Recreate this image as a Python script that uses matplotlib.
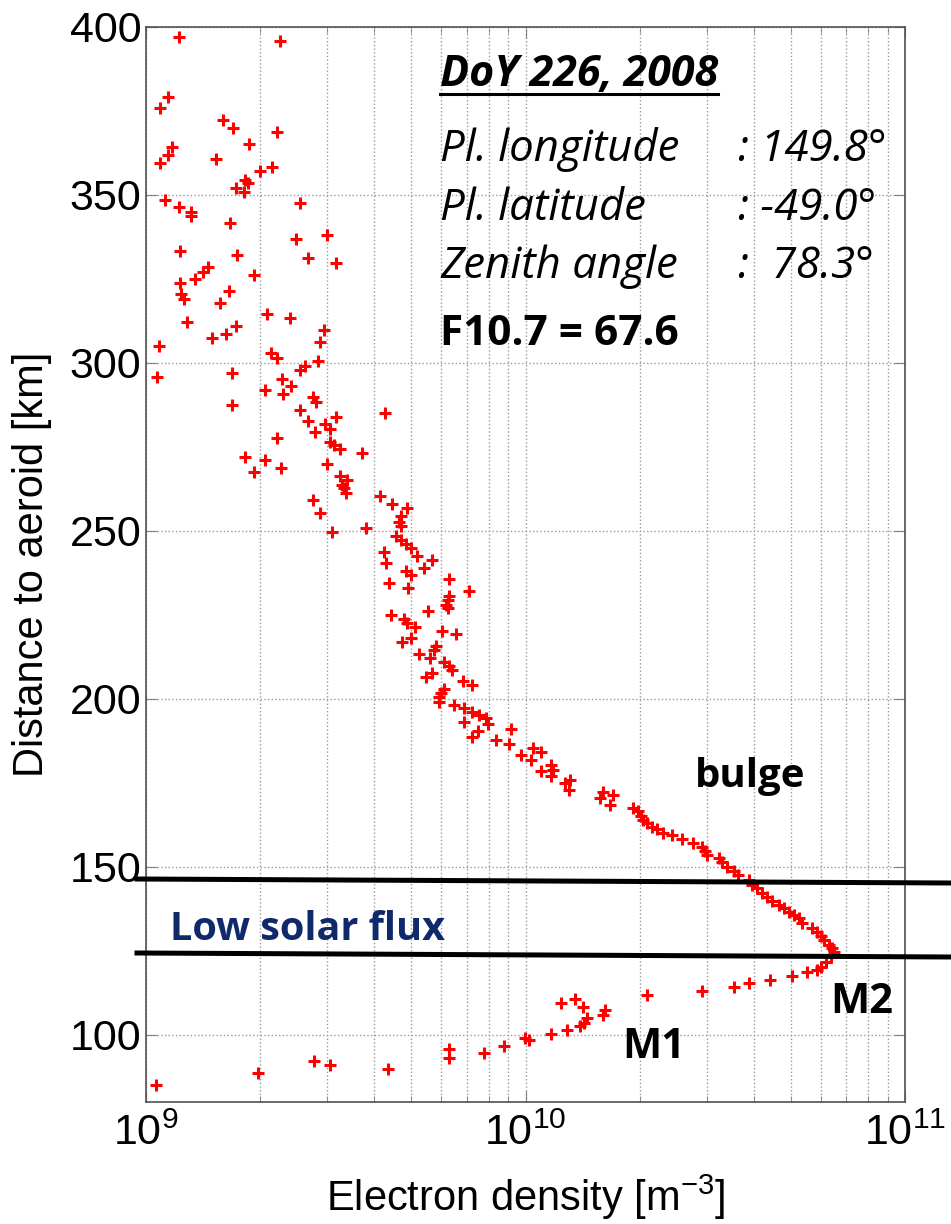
import numpy as np
import matplotlib.pyplot as plt
from matplotlib.lines import Line2D

plt.rcParams['font.family'] = 'Liberation Sans'
plt.rcParams['mathtext.fontset'] = 'custom'
plt.rcParams['mathtext.rm'] = 'Liberation Sans'
plt.rcParams['mathtext.it'] = 'Liberation Sans:italic'

# electron density, units of 1e9 m^-3
density = np.array([
    1.22, 2.26, 1.14, 1.09, 1.60, 1.70, 2.22, 1.87, 1.17, 1.14,
    1.09, 1.53, 2.00, 2.15, 1.82, 1.86, 1.73, 1.81, 1.12, 1.22,
    1.31, 1.31, 2.54, 1.66, 2.49, 2.99, 1.23, 1.74, 2.67, 3.16,
    1.46, 1.41, 1.35, 1.23, 1.92, 1.24, 1.26, 1.65, 1.57, 2.09,
    2.39, 1.28, 1.73, 1.62, 1.49, 2.94, 2.87, 1.08, 2.14, 2.21,
    2.84, 2.63, 2.54, 1.69, 1.07, 2.28,
    2.41, 2.06, 2.30, 1.69, 2.75, 2.80, 2.54, 4.26, 3.16, 2.68,
    2.97, 3.06, 2.78, 2.21, 3.06, 3.12, 3.24, 3.70, 1.82, 2.06,
    2.27, 1.93, 2.99, 3.24, 3.39, 3.29, 3.32, 3.36, 4.13, 2.75,
    4.46, 4.86, 2.87, 4.69, 4.64, 4.69, 3.09, 3.81, 4.55, 4.69,
    4.84, 4.98, 5.19, 5.67, 4.24, 4.28, 5.41, 4.84, 4.98, 6.27,
    4.37, 4.91, 7.08, 6.29, 6.23, 6.17, 6.23, 5.54, 4.43, 4.79,
    4.88, 5.12, 6.02, 6.56, 4.98, 4.72, 5.81, 5.74, 5.24, 5.60,
    6.11, 6.27, 6.40, 5.67, 5.46, 6.83, 7.21, 6.11, 5.98, 5.92,
    5.91, 6.49, 6.90, 7.25, 7.56, 7.87, 7.95, 6.90, 9.17, 7.48,
    7.25, 8.37, 9.07, 9.74, 10.35, 10.45, 11.0, 11.0, 11.7, 11.8,
    11.7, 12.7, 13.1, 13.0, 15.7, 16.0, 17.0, 16.7, 19.2, 19.8,
    20.2, 20.4, 20.9, 21.5, 22.2, 23.1, 24.3, 25.8, 27.6, 29.2,
    29.8, 30.1, 32.3, 32.9, 34.0, 35.4, 36.4, 38.7, 39.6, 40.8,
    42.0, 43.4, 44.7, 46.5, 47.9, 49.4, 50.9, 52.5, 53.6, 57.0,
    58.7, 59.9, 61.2, 63.0, 64.4, 65.0, 63.7, 61.8, 59.9, 58.7,
    55.3, 50.4, 44.2, 38.7, 35.4, 29.2, 20.9,
    12.4, 13.5, 14.2, 14.5, 14.3, 13.9, 12.9, 11.7, 10.2, 9.94, 8.80, 16.2, 16.0,
    1.06, 1.97, 2.77, 3.05, 4.35, 6.27, 6.27, 7.79,
]) * 1e9

# distance to aeroid, km
altitude = np.array([
    397.1, 395.8, 379.3, 375.8, 372.3, 370.0, 368.8, 365.2, 364.2, 362.0,
    359.4, 360.6, 357.1, 358.3, 354.5, 353.5, 352.2, 350.8, 348.5, 346.3,
    345.0, 343.8, 347.6, 341.6, 336.9, 338.1, 333.4, 332.2, 331.2, 329.7,
    328.7, 327.2, 324.9, 323.7, 326.1, 320.4, 319.0, 321.5, 317.9, 314.5,
    313.5, 312.1, 311.0, 308.5, 307.5, 309.8, 306.3, 305.1, 302.9, 301.6,
    300.7, 299.1, 297.9, 296.9, 295.9, 295.1,
    293.2, 292.0, 290.8, 287.4, 289.8, 288.5, 286.0, 285.0, 283.8, 282.7,
    281.8, 280.4, 279.3, 277.8, 276.6, 275.6, 274.4, 273.1, 272.1, 271.1,
    268.7, 267.4, 269.9, 266.2, 265.2, 263.7, 262.7, 261.4, 260.4, 259.2,
    258.0, 256.9, 255.3, 254.3, 252.8, 251.6, 249.6, 250.8, 248.5, 247.3,
    246.1, 245.0, 242.6, 241.4, 243.8, 240.4, 238.9, 238.2, 236.9, 235.6,
    234.6, 233.1, 232.2, 230.7, 229.5, 228.0, 227.0, 226.3, 225.0, 223.7,
    222.5, 221.5, 220.3, 219.3, 218.2, 216.8, 215.8, 214.6, 213.4, 212.3,
    211.1, 209.8, 208.6, 207.6, 206.6, 205.4, 204.2, 202.9, 201.7, 200.5,
    199.2, 198.2, 197.2, 196.2, 195.2, 194.3, 192.6, 193.2, 191.0, 190.3,
    188.8, 187.8, 186.5, 183.3, 181.8, 185.3, 184.3, 178.4, 180.4, 178.9,
    176.9, 174.9, 175.9, 172.9, 170.4, 172.4, 171.4, 168.5, 167.6, 166.5,
    165.0, 164.0, 163.0, 162.0, 161.2, 160.2, 159.5, 158.2, 157.2, 156.0,
    154.6, 153.6, 152.6, 151.3, 150.1, 148.9, 147.6, 146.1, 144.6, 143.7,
    142.2, 141.0, 139.7, 138.7, 137.7, 136.7, 135.7, 134.7, 133.4, 131.8,
    130.7, 129.5, 128.1, 126.8, 125.8, 124.8, 123.3, 121.8, 120.3, 119.3,
    118.8, 117.6, 116.4, 115.4, 114.2, 112.9, 111.9,
    109.6, 110.6, 108.4, 105.0, 103.5, 102.5, 101.3, 100.3, 98.5, 99.0, 96.8, 107.4, 106.0,
    85.1, 88.6, 92.3, 90.9, 89.9, 95.7, 93.1, 94.6,
])

xticks = [1e9, 1e10, 1e11]
xtick_labels = ['$10^{9}$', '$10^{10}$', '$10^{11}$']
yticks = [100, 150, 200, 250, 300, 350, 400]

W, H = 951, 1224


def fpos(x, y):
    # pixel position -> figure fraction
    return x / W, 1 - y / H


fig = plt.figure(figsize=(W / 100, H / 100), dpi=100)
ax = fig.add_axes([146 / W, 1 - 1102 / H, (905 - 146) / W, (1102 - 27) / H])

ax.plot(density, altitude, '+', color='red', ms=9, mew=2.2)

ax.set_xscale('log')
ax.set_xlim(1e9, 1e11)
ax.set_ylim(80, 400)
ax.set_xticks(xticks, xtick_labels)
ax.set_yticks(yticks)
ax.grid(True, which='major', ls=':', color='#9a9a9a', lw=1)
ax.grid(True, which='minor', axis='x', ls=':', color='#9a9a9a', lw=1)
ax.tick_params(which='both', direction='in', top=True, right=True,
               color='#808080', length=8, labelsize=31)
ax.tick_params(which='minor', length=4)
ax.tick_params(axis='x', pad=8)
for s in ax.spines.values():
    s.set_color('#505050')
    s.set_linewidth(1.2)

ax.set_xlabel('Electron density [m$^{-3}$]', fontsize=30)
ax.set_ylabel('Distance to aeroid [km]', fontsize=30)
ax.yaxis.set_label_coords(-0.124, 0.5)
ax.xaxis.set_label_coords(0.5, -0.066)

# annotation text
ann = dict(fontfamily='Open Sans', va='baseline', ha='left')
title = fig.text(*fpos(440, 86), 'DoY 226, 2008', fontweight='bold',
                 fontstyle='italic', fontsize=31, **ann)
rows = [('Pl. longitude', ': 149.8°', 161),
        ('Pl. latitude', ': -49.0°', 220),
        ('Zenith angle', ':  78.3°', 278)]
for name, val, y in rows:
    fig.text(*fpos(440, y), name, fontstyle='italic', fontsize=31.5, **ann)
    fig.text(*fpos(738, y), val, fontstyle='italic', fontsize=31.5, **ann)
fig.text(*fpos(440, 345), 'F10.7 = 67.6', fontweight='bold', fontsize=30.5, **ann)

fig.text(*fpos(695, 787), 'bulge', fontweight='bold', fontsize=29, **ann)
fig.text(*fpos(830, 1013), 'M2', fontweight='bold', fontsize=30, **ann)
fig.text(*fpos(622, 1058), 'M1', fontweight='bold', fontsize=30, **ann)
fig.text(*fpos(170, 940), 'Low solar flux', fontweight='bold', fontsize=28.5,
         color='#10296b', **ann)

# underline for the title
fig.canvas.draw()
bb = title.get_window_extent()
fig.add_artist(Line2D([bb.x0 / W, bb.x1 / W], [1 - 94 / H, 1 - 94 / H],
                      color='black', lw=2.2, transform=fig.transFigure))

# band lines
for (x0, y0), (x1, y1) in [((137, 879), (951, 883)), ((137, 953), (951, 957))]:
    a, b = fpos(x0, y0), fpos(x1, y1)
    fig.add_artist(Line2D([a[0], b[0]], [a[1], b[1]], color='black', lw=3.6,
                          transform=fig.transFigure))

fig.savefig('out.png', dpi=100)
